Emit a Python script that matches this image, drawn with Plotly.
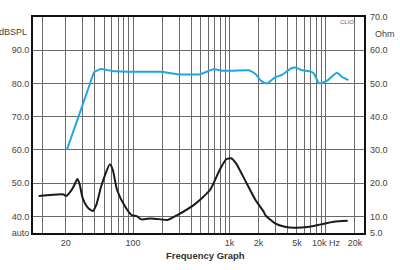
import plotly.graph_objects as go

# SPL curve (dB, left axis)
spl_freq = [20.6, 35.8, 39.6, 46.4, 60.3, 113, 194, 288, 493, 682, 857, 1082, 1582,
            1862, 2143, 2448, 2972, 3474, 4388, 4932, 5537, 6993, 7551, 8486, 10310, 13000, 14620, 17100]
spl_db = [60.0, 80.0, 83.4, 84.35, 83.75, 83.5, 83.5, 82.8, 82.8, 84.26, 83.84, 83.84, 83.96,
          82.85, 80.7, 80.0, 81.85, 82.55, 84.56, 84.74, 84.05, 83.54, 82.85, 80.05, 80.83, 83.24, 82.03, 81.04]

# Impedance curve (Ohm, right axis)
imp_freq = [10.5, 19.1, 20.1, 23.0, 24.6, 26.5, 27.9, 30.1, 33.6, 38.1, 41.5, 46.4, 51.2, 57.5, 61.7,
            68.3, 83, 96.8, 109, 122, 154, 195, 228, 288, 425, 627, 791, 925, 1040, 1169, 1477,
            1862, 2262, 2355, 2972, 3752, 4740, 6730, 8840, 12050, 16830]
imp_ohm = [16.1, 16.6, 16.1, 17.9, 19.4, 21.25, 19.7, 15.4, 12.8, 11.6, 13.4, 18.75, 22.45, 25.67, 23.96,
           17.94, 12.9, 10.4, 10.1, 9.1, 9.4, 9.1, 8.9, 10.4, 13.4, 17.94, 23.96, 27.18, 27.48, 25.97, 20.44,
           14.93, 11.41, 10.4, 7.9, 6.9, 6.6, 6.9, 7.6, 8.4, 8.7]

x_grid = [11.6, 20, 30, 40, 50, 60, 70, 80, 90, 100, 200, 300, 400, 500, 600, 700, 800, 900,
          1000, 2000, 3000, 4000, 5000, 6000, 7000, 8000, 9000, 10000, 20000]
x_labels = {20: "20", 100: "100", 1000: "1k", 2000: "2k", 5000: "5k", 10000: "10k Hz", 20000: "20k"}
x_text = [x_labels.get(v, "") for v in x_grid]

left_vals = [35, 40, 50, 60, 70, 80, 90]
left_text = ["auto", "40.0", "50.0", "60.0", "70.0", "80.0", "90.0"]
right_vals = [5, 10, 20, 30, 40, 50, 60, 70]
right_text = ["5.0", "10.0", "20.0", "30.0", "40.0", "50.0", "60.0", "70.0"]

FONT = "Liberation Sans Narrow, Arial Narrow, Liberation Sans, Arial, sans-serif"
TXT = "#444444"

fig = go.Figure()
fig.add_trace(go.Scatter(x=spl_freq, y=spl_db, mode="lines",
                         line=dict(color="#1fa7e2", width=2, shape="spline", smoothing=0.5),
                         showlegend=False, hoverinfo="skip"))
fig.add_trace(go.Scatter(x=imp_freq, y=imp_ohm, mode="lines", yaxis="y2",
                         line=dict(color="#1a1a1a", width=2, shape="spline", smoothing=0.6),
                         showlegend=False, hoverinfo="skip"))

fig.update_layout(
    width=400, height=270,
    margin=dict(l=32, r=29, t=17, b=37),
    paper_bgcolor="white", plot_bgcolor="white",
    font=dict(family=FONT, size=9, color=TXT),
    xaxis=dict(type="log", range=[0.9625, 4.395], tickvals=x_grid, ticktext=x_text,
               showgrid=True, gridcolor="#6a6a6a", gridwidth=1, ticks="", zeroline=False,
               showline=True, linecolor="#111111", linewidth=2, mirror=True,
               tickangle=0, tickfont=dict(size=9, family=FONT, color=TXT)),
    yaxis=dict(range=[35, 100], tickvals=left_vals, ticktext=left_text,
               showgrid=True, gridcolor="#6a6a6a", gridwidth=1, ticks="", zeroline=False,
               showline=True, linecolor="#111111", linewidth=2, mirror=True,
               tickfont=dict(size=9, family=FONT, color=TXT)),
    yaxis2=dict(range=[5, 70], overlaying="y", side="right", tickvals=right_vals,
                ticktext=right_text, showgrid=False, zeroline=False, ticks="",
                ticklabelstandoff=5,
                showline=False, tickfont=dict(size=9, family=FONT, color=TXT)),
    annotations=[
        dict(text="dBSPL", xref="paper", yref="paper", x=-0.012, y=0.93, xanchor="right",
             yanchor="middle", showarrow=False, font=dict(size=9, family=FONT, color=TXT)),
        dict(text="Ohm", xref="paper", yref="paper", x=1.026, y=0.92, xanchor="left",
             yanchor="middle", showarrow=False, font=dict(size=9, family=FONT, color=TXT)),
        dict(text="CLIO", xref="paper", yref="paper", x=0.95, y=0.975, xanchor="center",
             yanchor="middle", showarrow=False, font=dict(size=6, family=FONT, color="#666666")),
        dict(text="<b>Frequency Graph</b>", xref="paper", yref="paper", x=0.522, y=-0.105,
             xanchor="center", yanchor="middle", showarrow=False,
             font=dict(size=9.5, family=FONT, color="#333333")),
    ],
)

fig.write_html("out.html")
